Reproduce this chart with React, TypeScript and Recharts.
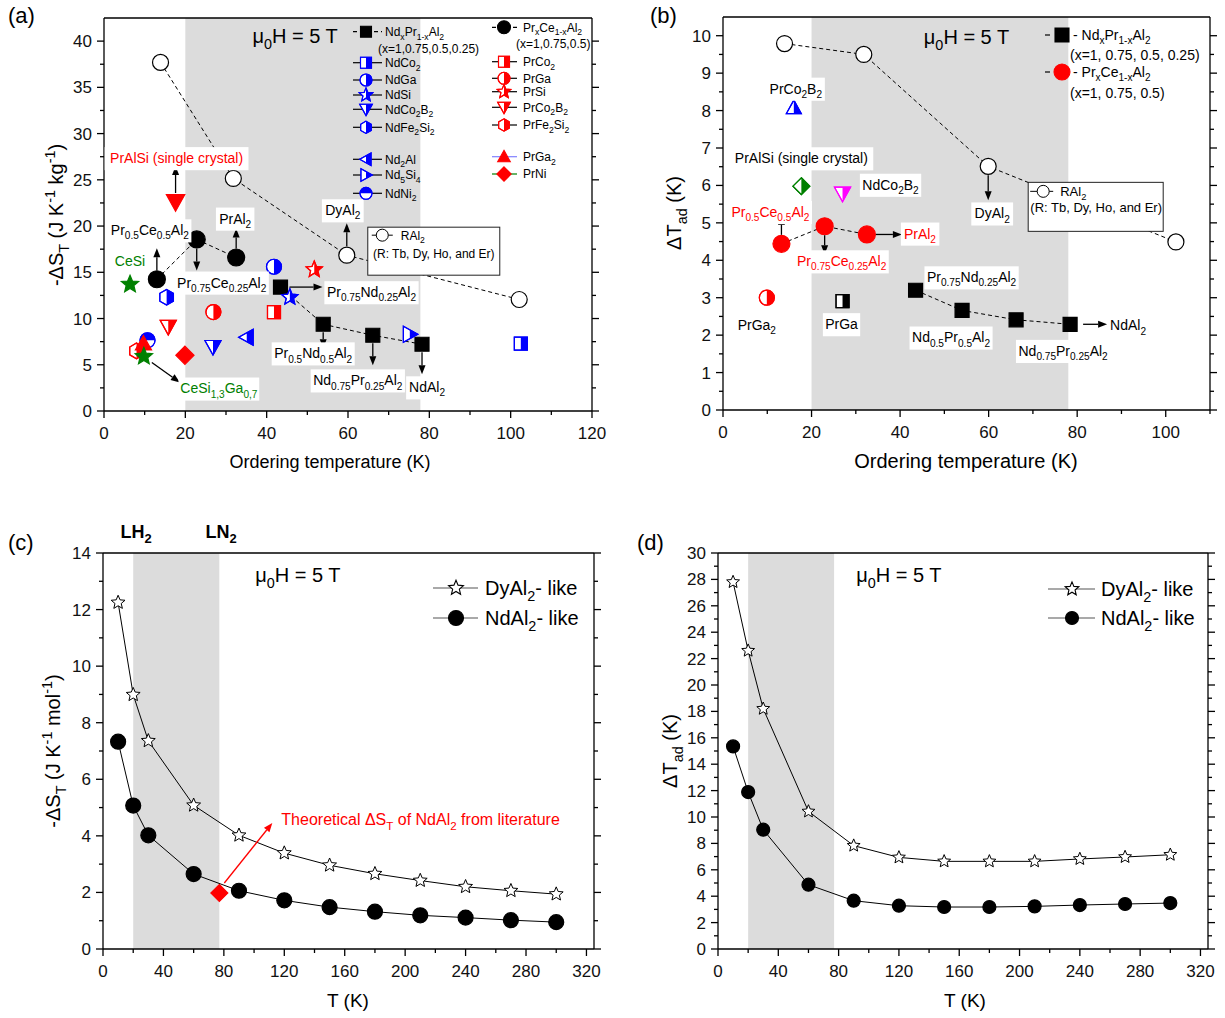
import React, { useId } from "react";
import {
  ScatterChart,
  Scatter,
  XAxis,
  YAxis,
  ReferenceArea,
  ReferenceLine,
  ReferenceDot,
  Legend,
} from "recharts";

const FONT = '"Liberation Sans", Arial, Helvetica, sans-serif';
const BLUE = "#0000ff";
const RED = "#ff0000";
const GREEN = "#008000";
const MAGENTA = "#ff00ff";
const GREY = "#dcdcdc";

// ---------- panel (a): -dS_T (J/kg K) vs ordering temperature ----------
const rAl2A = [
  { x: 13.9, y: 37.7 },
  { x: 31.8, y: 25.15 },
  { x: 59.7, y: 16.85 },
  { x: 102.1, y: 12.06 },
];
const ndPrA = [
  { x: 43.4, y: 13.4 },
  { x: 53.9, y: 9.38 },
  { x: 66.1, y: 8.19 },
  { x: 78.2, y: 7.22 },
];
const prCeA = [
  { x: 13.0, y: 14.25 },
  { x: 22.8, y: 18.55 },
  { x: 32.5, y: 16.6 },
];
const ndCo2A = [{ x: 102.5, y: 7.29 }];
const ndGaA = [{ x: 41.8, y: 15.6 }];
const ndSiA = [{ x: 45.7, y: 12.3 }];
const ndCo2B2A = [{ x: 26.8, y: 6.93 }];
const ndFe2Si2A = [{ x: 15.4, y: 12.3 }];
const nd2AlA = [{ x: 35.1, y: 7.98 }];
const nd5Si4A = [{ x: 75.2, y: 8.3 }];
const ndNi2A = [{ x: 10.7, y: 7.65 }];
const prCo2A = [{ x: 41.8, y: 10.7 }];
const prGaA = [{ x: 26.9, y: 10.7 }];
const prSiA = [{ x: 51.7, y: 15.3 }];
const prCo2B2A = [{ x: 15.8, y: 9.1 }];
const prFe2Si2A = [{ x: 8.0, y: 6.5 }];
const prGa2A = [{ x: 9.7, y: 7.3 }];
const prNiA = [{ x: 19.9, y: 6.03 }];
const prAlSiA = [{ x: 17.6, y: 22.6 }];
const ceSiA = [{ x: 6.4, y: 13.7 }];
const ceSiGaA = [{ x: 9.8, y: 5.9 }];

// ---------- panel (b): dT_ad vs ordering temperature ----------
const rAl2B = [
  { x: 13.9, y: 9.79 },
  { x: 31.8, y: 9.5 },
  { x: 59.9, y: 6.51 },
  { x: 102.3, y: 4.49 },
];
const ndPrB = [
  { x: 43.5, y: 3.2 },
  { x: 54.0, y: 2.66 },
  { x: 66.2, y: 2.41 },
  { x: 78.4, y: 2.29 },
];
const prCeB = [
  { x: 13.2, y: 4.44 },
  { x: 22.96, y: 4.91 },
  { x: 32.5, y: 4.69 },
];
const prCo2B2B = [{ x: 16.0, y: 8.08 }];
const prAlSiB = [{ x: 17.7, y: 5.98 }];
const ndCo2B2B = [{ x: 27.0, y: 5.78 }];
const prGa2B = [{ x: 9.9, y: 3.0 }];
const prGaB = [{ x: 27.0, y: 2.91 }];

// ---------- panels (c), (d): vs T ----------
const tempsCD = [10, 20, 30, 60, 90, 120, 150, 180, 210, 240, 270, 300];
const dyLikeC = [12.25, 8.99, 7.36, 5.08, 4.02, 3.39, 2.96, 2.66, 2.42, 2.2, 2.06, 1.94];
const ndLikeC = [7.33, 5.07, 4.02, 2.65, 2.06, 1.72, 1.48, 1.32, 1.19, 1.11, 1.02, 0.95];
const ndTheoryC = [{ x: 77, y: 1.98 }];
const dyLikeD = [27.8, 22.6, 18.2, 10.42, 7.83, 6.94, 6.64, 6.64, 6.64, 6.82, 6.97, 7.14];
const ndLikeD = [15.35, 11.89, 9.04, 4.87, 3.66, 3.28, 3.18, 3.18, 3.23, 3.33, 3.41, 3.48];

const xTicksA = [0, 10, 20, 30, 40, 50, 60, 70, 80, 90, 100, 110, 120];
const yTicksA = [0, 2.5, 5, 7.5, 10, 12.5, 15, 17.5, 20, 22.5, 25, 27.5, 30, 32.5, 35, 37.5, 40];
const xTicksB = [0, 10, 20, 30, 40, 50, 60, 70, 80, 90, 100, 110];
const yTicksB = [0, 0.5, 1, 1.5, 2, 2.5, 3, 3.5, 4, 4.5, 5, 5.5, 6, 6.5, 7, 7.5, 8, 8.5, 9, 9.5, 10];
const xTicksCD = [0, 20, 40, 60, 80, 100, 120, 140, 160, 180, 200, 220, 240, 260, 280, 300, 320];
const yTicksC = [0, 1, 2, 3, 4, 5, 6, 7, 8, 9, 10, 11, 12, 13, 14];
const yTicksD = [
  0, 1, 2, 3, 4, 5, 6, 7, 8, 9, 10, 11, 12, 13, 14, 15, 16, 17, 18, 19, 20, 21, 22, 23, 24,
  25, 26, 27, 28, 29, 30,
];

const pts = (xs: number[], ys: number[]) => xs.map((x, i) => ({ x, y: ys[i] }));
const dyC = pts(tempsCD, dyLikeC);
const ndC = pts(tempsCD, ndLikeC);
const dyD = pts(tempsCD, dyLikeD);
const ndD = pts(tempsCD, ndLikeD);

// ---------- helpers ----------
function parseChem(s: string) {
  const out: { t: string; s: string }[] = [];
  const re = /([_^])\{([^}]*)\}/g;
  let last = 0;
  let m: RegExpExecArray | null;
  while ((m = re.exec(s))) {
    if (m.index > last) out.push({ t: "n", s: s.slice(last, m.index) });
    out.push({ t: m[1] === "_" ? "sub" : "sup", s: m[2] });
    last = re.lastIndex;
  }
  if (last < s.length) out.push({ t: "n", s: s.slice(last) });
  return out;
}

function charW(c: string) {
  if (c === " ") return 0.278;
  if ("il.,:;|'!Ij".includes(c)) return 0.24;
  if ("()[]-rtf".includes(c)) return 0.32;
  if ("mw".includes(c)) return 0.83;
  if ("MW".includes(c)) return 0.88;
  if (/[A-Z]/.test(c)) return 0.68;
  return 0.556;
}

function textWidth(text: string, size: number) {
  return parseChem(text).reduce((acc, p) => {
    const k = p.t === "n" ? 1 : 0.72;
    return acc + p.s.split("").reduce((a, c) => a + charW(c), 0) * size * k;
  }, 0);
}

function Chem({ x, y, text, size, fill = "#000", anchor = "middle", weight = "normal", rotate = false }: any) {
  const parts = parseChem(text);
  let cur = 0;
  const kids = parts.map((p, i) => {
    const target = p.t === "sub" ? size * 0.3 : p.t === "sup" ? -size * 0.42 : 0;
    const dy = target - cur;
    cur = target;
    return (
      <tspan key={i} dy={dy || undefined} fontSize={p.t === "n" ? size : size * 0.72}>
        {p.s}
      </tspan>
    );
  });
  return (
    <text
      x={x}
      y={y}
      fill={fill}
      fontSize={size}
      fontFamily={FONT}
      textAnchor={anchor}
      fontWeight={weight}
      transform={rotate ? `rotate(-90 ${x} ${y})` : undefined}
    >
      {kids}
    </text>
  );
}

function shapePath(kind: string, s: number) {
  const f = (n: number) => n.toFixed(2);
  const poly = (p: number[][]) => "M" + p.map((q) => `${f(q[0])},${f(q[1])}`).join("L") + "Z";
  const a = 1.15 * s;
  switch (kind) {
    case "square":
      return poly([[-s, -s], [s, -s], [s, s], [-s, s]]);
    case "circle":
      return `M${f(-s)},0A${f(s)},${f(s)} 0 1,0 ${f(s)},0A${f(s)},${f(s)} 0 1,0 ${f(-s)},0Z`;
    case "up":
      return poly([[0, -a], [a, 0.8 * a], [-a, 0.8 * a]]);
    case "down":
      return poly([[0, a], [a, -0.8 * a], [-a, -0.8 * a]]);
    case "left":
      return poly([[-a, 0], [0.8 * a, -a], [0.8 * a, a]]);
    case "right":
      return poly([[a, 0], [-0.8 * a, -a], [-0.8 * a, a]]);
    case "diamond": {
      const d = 1.3 * s;
      return poly([[0, -d], [d, 0], [0, d], [-d, 0]]);
    }
    case "hex": {
      const r = 1.12 * s;
      return poly([-90, -30, 30, 90, 150, 210].map((g) => [r * Math.cos((g * Math.PI) / 180), r * Math.sin((g * Math.PI) / 180)]));
    }
    default: {
      const R = 1.3 * s;
      const p: number[][] = [];
      for (let i = 0; i < 10; i++) {
        const rr = i % 2 === 0 ? R : R * 0.45;
        const g = ((-90 + i * 36) * Math.PI) / 180;
        p.push([rr * Math.cos(g), rr * Math.sin(g)]);
      }
      return poly(p);
    }
  }
}

function Marker({ cx, cy, kind, color, fill = "full", s = 7, sw = 1.2 }: any) {
  const raw = useId();
  const id = "m" + raw.replace(/[^a-zA-Z0-9]/g, "");
  const d = shapePath(kind, s);
  const big = s * 3;
  let clip: any = null;
  if (fill === "right") clip = <rect x={0} y={-big} width={big} height={2 * big} />;
  if (fill === "top") clip = <rect x={-big} y={-big} width={2 * big} height={big} />;
  return (
    <g transform={`translate(${cx},${cy})`}>
      <path d={d} fill={fill === "full" ? color : "#fff"} stroke={color} strokeWidth={sw} strokeLinejoin="miter" />
      {clip && (
        <>
          <clipPath id={id}>{clip}</clipPath>
          <path d={d} fill={color} clipPath={`url(#${id})`} />
          <path d={d} fill="none" stroke={color} strokeWidth={sw} />
        </>
      )}
    </g>
  );
}

function Arrow({ x1, y1, x2, y2, color = "#000" }: any) {
  const a = Math.atan2(y2 - y1, x2 - x1);
  const L = 9;
  const H = 3.5;
  const bx = x2 - L * Math.cos(a);
  const by = y2 - L * Math.sin(a);
  const px = -Math.sin(a) * H;
  const py = Math.cos(a) * H;
  return (
    <g>
      <line x1={x1} y1={y1} x2={bx} y2={by} stroke={color} strokeWidth={1.3} />
      <polygon points={`${x2},${y2} ${bx + px},${by + py} ${bx - px},${by - py}`} fill={color} />
    </g>
  );
}

function Note({ cx, cy, n }: any) {
  const fs = n.fs ?? 14;
  const tx = cx + n.dx;
  const ty = cy + n.dy;
  const w = textWidth(n.text, fs);
  const left = n.anchor === "start" ? tx : tx - w / 2;
  return (
    <g>
      {n.arrow && (
        <Arrow x1={cx + n.arrow[0]} y1={cy + n.arrow[1]} x2={cx + n.arrow[2]} y2={cy + n.arrow[3]} color={n.arrowColor ?? "#000"} />
      )}
      {n.box && <rect x={left - 3} y={ty - fs * 0.78} width={w + 6} height={fs * 1.65} fill="#fff" />}
      <Chem x={tx} y={ty + fs * 0.36} text={n.text} size={fs} fill={n.color ?? "#000"} anchor={n.anchor ?? "middle"} />
    </g>
  );
}

function RBox({ cx, cy, b }: any) {
  const x = cx + b.dx;
  const y = cy + b.dy;
  return (
    <g>
      <rect x={x} y={y} width={b.w} height={b.h} fill="#fff" stroke="#222" strokeWidth={1} />
      <line x1={x + b.l1} x2={x + b.l2} y1={y + b.my} y2={y + b.my} stroke="#000" strokeWidth={1} />
      <Marker cx={x + b.mx} cy={y + b.my} kind="circle" color="#000" fill="open" s={6} sw={1} />
      <Chem x={x + b.t1x} y={y + b.my + b.fs * 0.36} text="RAl_{2}" size={b.fs} anchor="start" />
      <Chem x={x + b.t2x} y={y + b.t2y} text="(R: Tb, Dy, Ho, and Er)" size={b.fs} anchor="middle" />
    </g>
  );
}

function LegendSvg({ w, h, items }: any) {
  return (
    <svg width={w} height={h} style={{ overflow: "visible", display: "block" }}>
      {items.map((it: any, i: number) => (
        <g key={i}>
          {it.line && (
            <line
              x1={it.lx1}
              x2={it.lx2}
              y1={it.y}
              y2={it.y}
              stroke={it.line}
              strokeWidth={1.2}
              strokeDasharray={it.dash ? "4 3" : undefined}
            />
          )}
          {it.kind && <Marker cx={it.mx} cy={it.y} kind={it.kind} color={it.color} fill={it.fill} s={it.s ?? 5.5} sw={1.1} />}
          <Chem x={it.tx} y={it.y + it.fs * 0.36} text={it.text} size={it.fs} anchor="start" />
        </g>
      ))}
    </svg>
  );
}

function makeTick(side: string, major: number) {
  return (p: any) => {
    const v = p.payload.value;
    const isMajor = Math.abs(v / major - Math.round(v / major)) < 1e-6;
    const len = isMajor ? 7 : 4;
    const st = { stroke: "#000", strokeWidth: 1.3 };
    if (side === "bottom")
      return (
        <g>
          <line x1={p.x} y1={p.y} x2={p.x} y2={p.y + len} {...st} />
          {isMajor && (
            <text x={p.x} y={p.y + 28} textAnchor="middle" fontSize={17} fontFamily={FONT} fill="#111">
              {v}
            </text>
          )}
        </g>
      );
    if (side === "left")
      return (
        <g>
          <line x1={p.x} y1={p.y} x2={p.x - len} y2={p.y} {...st} />
          {isMajor && (
            <text x={p.x - 12} y={p.y + 6} textAnchor="end" fontSize={17} fontFamily={FONT} fill="#111">
              {v}
            </text>
          )}
        </g>
      );
    return (
      <g>
        <line x1={p.x} y1={p.y} x2={p.x + len} y2={p.y} {...st} />
      </g>
    );
  };
}

const AXIS = { stroke: "#000", strokeWidth: 1.3 };
const DASH = { stroke: "#000", strokeWidth: 1, strokeDasharray: "4 3" };
const SOLID = { stroke: "#000", strokeWidth: 1 };

function axes(c: any) {
  return [
    <XAxis
      key="x"
      type="number"
      dataKey="x"
      domain={c.xDomain}
      ticks={c.xTicks}
      interval={0}
      allowDataOverflow
      tickLine={false}
      tickSize={0}
      tickMargin={0}
      height={50}
      axisLine={AXIS}
      tick={makeTick("bottom", c.xMajor)}
    />,
    <YAxis
      key="y"
      type="number"
      dataKey="y"
      domain={c.yDomain}
      ticks={c.yTicks}
      interval={0}
      allowDataOverflow
      tickLine={false}
      tickSize={0}
      tickMargin={0}
      width={60}
      axisLine={AXIS}
      tick={makeTick("left", c.yMajor)}
    />,
    <YAxis
      key="yr"
      yAxisId="r"
      orientation="right"
      type="number"
      domain={c.yDomain}
      ticks={c.yTicks}
      interval={0}
      allowDataOverflow
      tickLine={false}
      tickSize={0}
      tickMargin={0}
      width={12}
      axisLine={AXIS}
      tick={makeTick("right", c.yMajor)}
    />,
    <ReferenceLine key="top" y={c.yDomain[1]} stroke="#000" strokeWidth={1.3} ifOverflow="visible" />,
  ];
}

// series styles
const seriesA = [
  { data: prFe2Si2A, kind: "hex", color: RED, fill: "right", s: 7 },
  { data: ndNi2A, kind: "circle", color: BLUE, fill: "top", s: 7.5 },
  { data: prGa2A, kind: "up", color: RED, fill: "full", s: 7 },
  { data: ceSiGaA, kind: "star", color: GREEN, fill: "full", s: 7 },
  { data: ceSiA, kind: "star", color: GREEN, fill: "full", s: 7 },
  { data: ndCo2A, kind: "square", color: BLUE, fill: "right", s: 6.5 },
  { data: ndGaA, kind: "circle", color: BLUE, fill: "right", s: 7.5 },
  { data: ndSiA, kind: "star", color: BLUE, fill: "right", s: 6.5 },
  { data: ndCo2B2A, kind: "down", color: BLUE, fill: "right", s: 7 },
  { data: ndFe2Si2A, kind: "hex", color: BLUE, fill: "right", s: 7 },
  { data: nd2AlA, kind: "left", color: BLUE, fill: "right", s: 7 },
  { data: nd5Si4A, kind: "right", color: BLUE, fill: "right", s: 7 },
  { data: prCo2A, kind: "square", color: RED, fill: "right", s: 6.5 },
  { data: prGaA, kind: "circle", color: RED, fill: "right", s: 7.5 },
  { data: prSiA, kind: "star", color: RED, fill: "right", s: 6.5 },
  { data: prCo2B2A, kind: "down", color: RED, fill: "right", s: 7 },
  { data: prNiA, kind: "diamond", color: RED, fill: "full", s: 7 },
  { data: prAlSiA, kind: "down", color: RED, fill: "full", s: 8 },
];

const seriesB = [
  { data: prCo2B2B, kind: "up", color: BLUE, fill: "right", s: 6.5 },
  { data: prAlSiB, kind: "diamond", color: GREEN, fill: "right", s: 6.5 },
  { data: ndCo2B2B, kind: "down", color: MAGENTA, fill: "right", s: 7 },
  { data: prGa2B, kind: "circle", color: RED, fill: "right", s: 7.5 },
  { data: prGaB, kind: "square", color: "#000", fill: "right", s: 6.5 },
];

const FIELD = "\u03bc_{0}H = 5 T";

const notesA = [
  { at: prAlSiA[0], text: "PrAlSi (single crystal)", dx: 1, dy: -44, color: RED, box: true, arrow: [0, -9, 0, -36] },
  { at: prCeA[0], text: "Pr_{0.5}Ce_{0.5}Al_{2}", dx: -7, dy: -49, box: true, arrow: [0, -9, 0, -31] },
  { at: ceSiA[0], text: "CeSi", dx: 0, dy: -23, color: GREEN },
  { at: prCeA[1], text: "Pr_{0.75}Ce_{0.25}Al_{2}", dx: 25, dy: 43, box: true, arrow: [0, 9, 0, 31] },
  { at: prCeA[2], text: "PrAl_{2}", dx: -1, dy: -39, box: true, arrow: [0, -9, 0, -29] },
  { at: rAl2A[2], text: "DyAl_{2}", dx: -4, dy: -45, box: true, arrow: [0, -9, 0, -32] },
  { at: ndPrA[0], text: "Pr_{0.75}Nd_{0.25}Al_{2}", dx: 91, dy: 5, box: true, arrow: [9, 0, 42, 0] },
  { at: ndPrA[1], text: "Pr_{0.5}Nd_{0.5}Al_{2}", dx: -10, dy: 29, box: true, arrow: [0, 8, 0, 24] },
  { at: ndPrA[2], text: "Nd_{0.75}Pr_{0.25}Al_{2}", dx: -15, dy: 45, box: true, arrow: [0, 8, 0, 30] },
  { at: ndPrA[3], text: "NdAl_{2}", dx: 5, dy: 43, box: true, arrow: [0, 8, 0, 30] },
  { at: ceSiGaA[0], text: "CeSi_{1,3}Ga_{0,7}", dx: 75, dy: 32, color: GREEN, box: true, arrow: [8, 6, 36, 26] },
  { at: { x: 47, y: 40.55 }, text: FIELD, dx: 0, dy: 0, fs: 20 },
];

const notesB = [
  { at: prCo2B2B[0], text: "PrCo_{2}B_{2}", dx: 2, dy: -19, box: true },
  { at: prAlSiB[0], text: "PrAlSi (single crystal)", dx: 0, dy: -28, box: true },
  { at: ndCo2B2B[0], text: "NdCo_{2}B_{2}", dx: 48, dy: -9, box: true },
  { at: prCeB[0], text: "Pr_{0.5}Ce_{0.5}Al_{2}", dx: -11, dy: -32, color: RED, box: true, arrow: [0, -9, 0, -28] },
  { at: prCeB[1], text: "Pr_{0.75}Ce_{0.25}Al_{2}", dx: 17, dy: 35, color: RED, box: true, arrow: [0, 9, 0, 28] },
  { at: prCeB[2], text: "PrAl_{2}", dx: 37, dy: -1, color: RED, box: true, anchor: "start", arrow: [9, 0, 35, 0] },
  { at: prGa2B[0], text: "PrGa_{2}", dx: -10, dy: 27 },
  { at: prGaB[0], text: "PrGa", dx: -1, dy: 23, box: true },
  { at: rAl2B[2], text: "DyAl_{2}", dx: 4, dy: 47, box: true, arrow: [0, 9, 0, 34] },
  { at: ndPrB[0], text: "Pr_{0.75}Nd_{0.25}Al_{2}", dx: 56, dy: -13, box: true },
  { at: ndPrB[1], text: "Nd_{0.5}Pr_{0.5}Al_{2}", dx: -11, dy: 27, box: true },
  { at: ndPrB[2], text: "Nd_{0.75}Pr_{0.25}Al_{2}", dx: 47, dy: 31, box: true },
  { at: ndPrB[3], text: "NdAl_{2}", dx: 40, dy: 1, anchor: "start", arrow: [13, 0, 37, 0] },
  { at: { x: 55, y: 9.97 }, text: FIELD, dx: 0, dy: 0, fs: 20 },
];

const notesC = [
  {
    at: ndTheoryC[0],
    text: "Theoretical \u0394S_{T} of NdAl_{2} from literature",
    dx: 62,
    dy: -74,
    fs: 16,
    anchor: "start",
    color: RED,
    arrow: [5, -10, 53, -70],
    arrowColor: RED,
  },
  { at: { x: 129, y: 13.23 }, text: FIELD, dx: 0, dy: 0, fs: 20 },
];
const notesD = [{ at: { x: 120, y: 28.36 }, text: FIELD, dx: 0, dy: 0, fs: 20 }];

const L1 = { mx: 16, lx1: 3, lx2: 32, tx: 35, fs: 12, line: "#000" };
const L2 = { mx: 154, lx1: 142, lx2: 167, tx: 173, fs: 12, line: "#000" };
const legendA = [
  { ...L1, y: 16.7, kind: "square", color: "#000", fill: "full", dash: true, text: "Nd_{x}Pr_{1-x}Al_{2}" },
  { tx: 28, y: 33.3, fs: 12, text: "(x=1,0.75,0.5,0.25)" },
  { ...L1, y: 47.7, kind: "square", color: BLUE, fill: "right", text: "NdCo_{2}" },
  { ...L1, y: 65, kind: "circle", color: BLUE, fill: "right", s: 6, text: "NdGa" },
  { ...L1, y: 80, kind: "star", color: BLUE, fill: "right", text: "NdSi" },
  { ...L1, y: 94.3, kind: "down", color: BLUE, fill: "right", text: "NdCo_{2}B_{2}" },
  { ...L1, y: 112.3, kind: "hex", color: BLUE, fill: "right", text: "NdFe_{2}Si_{2}" },
  { ...L1, y: 144.3, kind: "left", color: BLUE, fill: "right", text: "Nd_{2}Al" },
  { ...L1, y: 160, kind: "right", color: BLUE, fill: "right", text: "Nd_{5}Si_{4}" },
  { ...L1, y: 178.3, kind: "circle", color: BLUE, fill: "top", s: 6, text: "NdNi_{2}" },
  { ...L2, y: 12.3, kind: "circle", color: "#000", fill: "full", s: 6.5, dash: true, text: "Pr_{x}Ce_{1-x}Al_{2}" },
  { tx: 166, y: 29, fs: 12, text: "(x=1,0.75,0.5)" },
  { ...L2, y: 46.7, kind: "square", color: RED, fill: "right", text: "PrCo_{2}" },
  { ...L2, y: 63.3, kind: "circle", color: RED, fill: "right", s: 6, text: "PrGa" },
  { ...L2, y: 76.7, kind: "star", color: RED, fill: "right", text: "PrSi" },
  { ...L2, y: 92.3, kind: "down", color: RED, fill: "right", text: "PrCo_{2}B_{2}" },
  { ...L2, y: 110, kind: "hex", color: RED, fill: "right", text: "PrFe_{2}Si_{2}" },
  { ...L2, y: 141.7, kind: "up", color: RED, fill: "full", line: "#8080ff", text: "PrGa_{2}" },
  { ...L2, y: 159, kind: "diamond", color: RED, fill: "full", line: GREEN, text: "PrNi" },
];

const legendB = [
  { mx: 27, y: 15, lx1: 10, lx2: 15, line: "#000", kind: "square", color: "#000", fill: "full", s: 7, tx: 38, fs: 14, text: "- Nd_{x}Pr_{1-x}Al_{2}" },
  { tx: 35, y: 35, fs: 14, text: "(x=1, 0.75, 0.5, 0.25)" },
  { mx: 27, y: 52, lx1: 10, lx2: 15, line: "#000", kind: "circle", color: RED, fill: "full", s: 8, tx: 38, fs: 14, text: "- Pr_{x}Ce_{1-x}Al_{2}" },
  { tx: 35, y: 73, fs: 14, text: "(x=1, 0.75, 0.5)" },
];

const legendC = [
  { mx: 26, lx1: 3, lx2: 48, line: "#555", y: 13, kind: "star", color: "#000", fill: "open", s: 6, tx: 55, fs: 20, text: "DyAl_{2}- like" },
  { mx: 26, lx1: 3, lx2: 48, line: "#555", y: 43, kind: "circle", color: "#000", fill: "full", s: 7.5, tx: 55, fs: 20, text: "NdAl_{2}- like" },
];
const legendD = [
  { mx: 27, lx1: 3, lx2: 50, line: "#555", y: 14, kind: "star", color: "#000", fill: "open", s: 5.5, tx: 56, fs: 20, text: "DyAl_{2}- like" },
  { mx: 27, lx1: 3, lx2: 50, line: "#555", y: 43, kind: "circle", color: "#000", fill: "full", s: 6.5, tx: 56, fs: 20, text: "NdAl_{2}- like" },
];

const boxA = { dx: 21, dy: -28, w: 132, h: 48, fs: 12, l1: 4, l2: 25, mx: 14.5, my: 8, t1x: 33, t2x: 66, t2y: 31 };
const boxB = { dx: 40, dy: 16, w: 135, h: 49, fs: 13, l1: 2, l2: 25, mx: 15, my: 9, t1x: 32, t2x: 68, t2y: 30 };

function notes(list: any[]) {
  return list.map((n, i) => (
    <ReferenceDot
      key={"n" + i}
      x={n.at.x}
      y={n.at.y}
      r={0}
      ifOverflow="visible"
      shape={(p: any) => <Note cx={p.cx} cy={p.cy} n={n} />}
    />
  ));
}

function styled(list: any[], prefix: string) {
  return list.map((sr, i) => (
    <Scatter
      key={prefix + i}
      data={sr.data}
      isAnimationActive={false}
      shape={(p: any) => <Marker cx={p.cx} cy={p.cy} kind={sr.kind} color={sr.color} fill={sr.fill} s={sr.s} />}
    />
  ));
}

function legendOf(items: any[], left: number, top: number, w: number, h: number) {
  return (
    <Legend
      layout="horizontal"
      verticalAlign="middle"
      align="center"
      wrapperStyle={{ left, top, width: w, height: h }}
      content={() => <LegendSvg w={w} h={h} items={items} />}
    />
  );
}

export default function App() {
  return (
    <div style={{ position: "absolute", left: 0, top: 0, width: 1225, height: 1018, background: "#fff", fontFamily: FONT }}>
      {/* (a) */}
      <div style={{ position: "absolute", left: 0, top: 0 }}>
        <ScatterChart width={612} height={485} margin={{ top: 18, right: 8, bottom: 24, left: 44 }}>
          <ReferenceArea x1={20} x2={77.8} fill={GREY} fillOpacity={1} stroke="none" />
          {axes({ xDomain: [0, 120], yDomain: [0, 42.5], xTicks: xTicksA, yTicks: yTicksA, xMajor: 20, yMajor: 5 })}
          <Scatter data={rAl2A} line={DASH} isAnimationActive={false}
            shape={(p: any) => <Marker cx={p.cx} cy={p.cy} kind="circle" color="#000" fill="open" s={8} />} />
          <Scatter data={ndPrA} line={DASH} isAnimationActive={false}
            shape={(p: any) => <Marker cx={p.cx} cy={p.cy} kind="square" color="#000" fill="full" s={7} />} />
          <Scatter data={prCeA} line={DASH} isAnimationActive={false}
            shape={(p: any) => <Marker cx={p.cx} cy={p.cy} kind="circle" color="#000" fill="full" s={8.5} />} />
          {styled(seriesA, "a")}
          {notes(notesA)}
          <ReferenceDot x={rAl2A[2].x} y={rAl2A[2].y} r={0} ifOverflow="visible"
            shape={(p: any) => <RBox cx={p.cx} cy={p.cy} b={boxA} />} />
          {legendOf(legendA, 350, 15, 260, 195)}
        </ScatterChart>
      </div>

      {/* (b) */}
      <div style={{ position: "absolute", left: 612, top: 0 }}>
        <ScatterChart width={613} height={485} margin={{ top: 17, right: 3, bottom: 25, left: 51 }}>
          <ReferenceArea x1={20} x2={78} fill={GREY} fillOpacity={1} stroke="none" />
          {axes({ xDomain: [0, 110], yDomain: [0, 10.5], xTicks: xTicksB, yTicks: yTicksB, xMajor: 20, yMajor: 1 })}
          <Scatter data={rAl2B} line={DASH} isAnimationActive={false}
            shape={(p: any) => <Marker cx={p.cx} cy={p.cy} kind="circle" color="#000" fill="open" s={8} />} />
          <Scatter data={ndPrB} line={DASH} isAnimationActive={false}
            shape={(p: any) => <Marker cx={p.cx} cy={p.cy} kind="square" color="#000" fill="full" s={7} />} />
          <Scatter data={prCeB} line={DASH} isAnimationActive={false}
            shape={(p: any) => <Marker cx={p.cx} cy={p.cy} kind="circle" color={RED} fill="full" s={8.5} />} />
          {styled(seriesB, "b")}
          {notes(notesB)}
          <ReferenceDot x={rAl2B[2].x} y={rAl2B[2].y} r={0} ifOverflow="visible"
            shape={(p: any) => <RBox cx={p.cx} cy={p.cy} b={boxB} />} />
          {legendOf(legendB, 423, 20, 180, 90)}
        </ScatterChart>
      </div>

      {/* (c) */}
      <div style={{ position: "absolute", left: 0, top: 500 }}>
        <ScatterChart width={612} height={518} margin={{ top: 53, right: 6, bottom: 19, left: 43 }}>
          <ReferenceArea x1={20} x2={77} fill={GREY} fillOpacity={1} stroke="none" />
          {axes({ xDomain: [0, 325], yDomain: [0, 14], xTicks: xTicksCD, yTicks: yTicksC, xMajor: 40, yMajor: 2 })}
          <Scatter data={dyC} line={SOLID} isAnimationActive={false}
            shape={(p: any) => <Marker cx={p.cx} cy={p.cy} kind="star" color="#000" fill="open" s={5.6} sw={1} />} />
          <Scatter data={ndC} line={SOLID} isAnimationActive={false}
            shape={(p: any) => <Marker cx={p.cx} cy={p.cy} kind="circle" color="#000" fill="full" s={7.5} />} />
          <Scatter data={ndTheoryC} isAnimationActive={false}
            shape={(p: any) => <Marker cx={p.cx} cy={p.cy} kind="diamond" color={RED} fill="full" s={6.5} />} />
          {notes(notesC)}
          {legendOf(legendC, 430, 75, 170, 60)}
        </ScatterChart>
      </div>

      {/* (d) */}
      <div style={{ position: "absolute", left: 612, top: 500 }}>
        <ScatterChart width={613} height={518} margin={{ top: 53, right: 5, bottom: 19, left: 46 }}>
          <ReferenceArea x1={20} x2={77} fill={GREY} fillOpacity={1} stroke="none" />
          {axes({ xDomain: [0, 325], yDomain: [0, 30], xTicks: xTicksCD, yTicks: yTicksD, xMajor: 40, yMajor: 2 })}
          <Scatter data={dyD} line={SOLID} isAnimationActive={false}
            shape={(p: any) => <Marker cx={p.cx} cy={p.cy} kind="star" color="#000" fill="open" s={5.2} sw={1} />} />
          <Scatter data={ndD} line={SOLID} isAnimationActive={false}
            shape={(p: any) => <Marker cx={p.cx} cy={p.cy} kind="circle" color="#000" fill="full" s={6.5} />} />
          {notes(notesD)}
          {legendOf(legendD, 433, 75, 170, 60)}
        </ScatterChart>
      </div>

      {/* panel letters and axis titles */}
      <svg width={1225} height={1018} style={{ position: "absolute", left: 0, top: 0, pointerEvents: "none" }}>
        <Chem x={8} y={23} text="(a)" size={22} anchor="start" />
        <Chem x={650} y={23} text="(b)" size={22} anchor="start" />
        <Chem x={8} y={550} text="(c)" size={22} anchor="start" />
        <Chem x={637} y={550} text="(d)" size={22} anchor="start" />
        <Chem x={330} y={468} text="Ordering temperature (K)" size={18} />
        <Chem x={966} y={468} text="Ordering temperature (K)" size={20} />
        <Chem x={348} y={1007} text="T (K)" size={19} />
        <Chem x={965} y={1007} text="T (K)" size={19} />
        <Chem x={63} y={215} text={"-\u0394S_{T} (J K^{-1} kg^{-1})"} size={20} rotate />
        <Chem x={681} y={213} text={"\u0394T_{ad} (K)"} size={20} rotate />
        <Chem x={60} y={751} text={"-\u0394S_{T} (J K^{-1} mol^{-1})"} size={20} rotate />
        <Chem x={677} y={751} text={"\u0394T_{ad} (K)"} size={20} rotate />
        <Chem x={136} y={538} text="LH_{2}" size={18} weight="bold" />
        <Chem x={221} y={538} text="LN_{2}" size={18} weight="bold" />
      </svg>
    </div>
  );
}
